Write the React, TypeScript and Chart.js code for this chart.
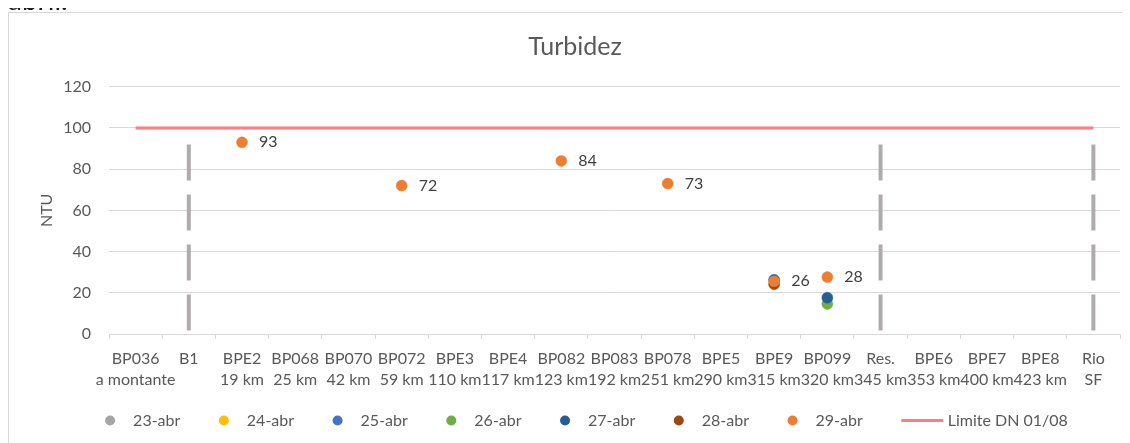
import React, { useEffect, useRef } from "react";
import { Chart, registerables } from "chart.js";

Chart.register(...registerables);

// ---------- data ----------
const stationNames = [
  "BP036", "B1", "BPE2", "BP068", "BP070", "BP072", "BPE3", "BPE4", "BP082", "BP083",
  "BP078", "BPE5", "BPE9", "BP099", "Res.", "BPE6", "BPE7", "BPE8", "Rio",
];
const stationKm = [
  "a montante", "", "19 km", "25 km", "42 km", "59 km", "110 km", "117 km", "123 km", "192 km",
  "251 km", "290 km", "315 km", "320 km", "345 km", "353 km", "400 km", "423 km", "SF",
];

const N = null;
const values23abr = [N, N, N, N, N, N, N, N, N, N, N, N, N, N, N, N, N, N, N];
const values24abr = [N, N, N, N, N, N, N, N, N, N, N, N, N, N, N, N, N, N, N];
const values25abr = [N, N, N, N, N, N, N, N, N, N, N, N, N, N, N, N, N, N, N];
const values26abr = [N, N, N, N, N, N, N, N, N, N, N, N, N, 14.6, N, N, N, N, N];
const values27abr = [N, N, N, N, N, N, N, N, N, N, N, N, 26.3, 17.6, N, N, N, N, N];
const values28abr = [N, N, N, N, N, N, N, N, N, N, N, N, 24.2, N, N, N, N, N, N];
const values29abr = [N, N, 93, N, N, 72, N, N, 84, N, 73, N, 25.6, 27.6, N, N, N, N, N];
const limitValues = [100, 100, 100, 100, 100, 100, 100, 100, 100, 100, 100, 100, 100, 100, 100, 100, 100, 100, 100];

const seriesNames = ["23-abr", "24-abr", "25-abr", "26-abr", "27-abr", "28-abr", "29-abr"];
const seriesColors = ["#A5A5A5", "#FFC000", "#4472C4", "#70AD47", "#255E91", "#9E480E", "#ED7D31"];
const seriesValues = [values23abr, values24abr, values25abr, values26abr, values27abr, values28abr, values29abr];
const labelledSeries = "29-abr";

const limitName = "Limite DN 01/08";
const limitColor = "#FF7C80";

const separatorStations = ["B1", "Res.", "Rio"];
const separatorRange = [92, 0];
const separatorColor = "#AFABAB";

const yMin = 0;
const yMax = 120;
const yStep = 20;

const chartTitle = "Turbidez";
const yTitle = "NTU";
const pageText = "abril.";

// ---------- styling ----------
const FONT = "Lato";
const TEXT = "#595959";
const GRID = "#D9D9D9";

const legendPlugin = {
  id: "customLegend",
  afterDraw(chart: any) {
    const ctx = chart.ctx;
    const items = chart.data.datasets.filter((d: any) => d.legendKind);
    ctx.save();
    ctx.font = `16px ${FONT}`;
    ctx.textBaseline = "middle";
    const markerW = (it: any) => (it.legendKind === "line" ? 42 : 10);
    const markerGap = (it: any) => (it.legendKind === "line" ? 4.5 : 18);
    const itemGap = 38.5;
    let total = 0;
    items.forEach((it: any, i: number) => {
      total += markerW(it) + markerGap(it) + ctx.measureText(it.label).width + (i < items.length - 1 ? itemGap : 0);
    });
    let x = chart.width / 2 + 11.5 - total / 2;
    const y = chart.chartArea.bottom + 86.5;
    items.forEach((it: any) => {
      const w = markerW(it);
      if (it.legendKind === "line") {
        ctx.strokeStyle = it.borderColor;
        ctx.lineWidth = 3;
        ctx.beginPath();
        ctx.moveTo(x, y);
        ctx.lineTo(x + w, y);
        ctx.stroke();
      } else {
        ctx.fillStyle = it.pointBackgroundColor;
        ctx.beginPath();
        ctx.arc(x + w / 2, y, 5, 0, Math.PI * 2);
        ctx.fill();
      }
      x += w + markerGap(it);
      ctx.fillStyle = TEXT;
      ctx.textAlign = "left";
      ctx.fillText(it.label, x, y);
      x += ctx.measureText(it.label).width + itemGap;
    });
    ctx.restore();
  },
};

const dataLabelPlugin = {
  id: "pointLabels",
  afterDatasetsDraw(chart: any) {
    const ctx = chart.ctx;
    chart.data.datasets.forEach((ds: any, di: number) => {
      if (!ds.showLabels) return;
      const meta = chart.getDatasetMeta(di);
      ctx.save();
      ctx.font = `16px ${FONT}`;
      ctx.fillStyle = "#404040";
      ctx.textAlign = "left";
      ctx.textBaseline = "middle";
      meta.data.forEach((pt: any, i: number) => {
        const v = ds.data[i];
        if (v === null || v === undefined) return;
        ctx.fillText(String(Math.round(v)), pt.x + 17, pt.y);
      });
      ctx.restore();
    });
  },
};

export default function App() {
  const canvasRef = useRef<HTMLCanvasElement | null>(null);

  useEffect(() => {
    if (!canvasRef.current) return;

    const pointSets = seriesNames.map((name, i) => ({
      type: "line",
      label: name,
      data: seriesValues[i],
      showLine: false,
      pointRadius: 5.5,
      pointHoverRadius: 5.5,
      pointBackgroundColor: seriesColors[i],
      pointBorderColor: seriesColors[i],
      pointBorderWidth: 0.5,
      borderColor: seriesColors[i],
      backgroundColor: seriesColors[i],
      order: seriesNames.length - 1 - i,
      legendKind: "point",
      showLabels: name === labelledSeries,
    }));

    const limitSet = {
      type: "line",
      label: limitName,
      data: limitValues,
      borderColor: limitColor,
      backgroundColor: limitColor,
      borderWidth: 3,
      pointRadius: 0,
      pointHoverRadius: 0,
      order: 20,
      legendKind: "line",
    };

    const separatorSets = separatorStations.map((st) => ({
      type: "line",
      label: "sep-" + st,
      data: separatorRange.map((v) => ({ x: st, y: v })),
      borderColor: separatorColor,
      borderWidth: 4,
      borderDash: [36, 14],
      borderCapStyle: "butt",
      pointRadius: 0,
      pointHoverRadius: 0,
      order: 30,
    }));

    const chart = new Chart(canvasRef.current, {
      type: "line",
      data: {
        labels: stationNames,
        datasets: [...pointSets, limitSet, ...separatorSets] as any,
      },
      options: {
        animation: false,
        responsive: false,
        maintainAspectRatio: false,
        events: [],
        layout: { padding: { top: 0, left: 0, right: 0, bottom: 0 } },
        plugins: {
          legend: { display: false },
          tooltip: { enabled: false },
          title: {
            display: true,
            text: chartTitle,
            color: TEXT,
            font: { family: FONT, size: 25, weight: "normal" },
            padding: { top: 19, bottom: 24.7 },
          },
        },
        scales: {
          x: {
            type: "category",
            offset: true,
            grid: {
              drawOnChartArea: false,
              drawTicks: true,
              tickLength: 5,
              color: GRID,
              offset: true,
            },
            border: { color: GRID, width: 1 },
            ticks: {
              autoSkip: false,
              maxRotation: 0,
              minRotation: 0,
              padding: 8.6,
              color: TEXT,
              font: { family: FONT, size: 16, lineHeight: 1.356 },
              callback: (_v: any, i: number) => [stationNames[i], stationKm[i]],
            },
            afterFit: (s: any) => {
              s.height = 109;
            },
          },
          y: {
            type: "linear",
            position: "left",
            min: yMin,
            max: yMax,
            grid: { color: GRID, drawTicks: false },
            border: { display: false },
            ticks: {
              stepSize: yStep,
              padding: 18,
              color: TEXT,
              font: { family: FONT, size: 16 },
            },
            title: {
              display: true,
              text: yTitle,
              color: TEXT,
              font: { family: FONT, size: 16 },
              padding: { top: 28, bottom: 0 },
            },
            afterFit: (s: any) => {
              s.width = 100;
            },
          },
          yR: {
            type: "linear",
            position: "right",
            display: true,
            grid: { display: false, drawTicks: false },
            border: { display: false },
            ticks: { display: false },
            afterFit: (s: any) => {
              s.width = 21;
            },
          },
        },
      } as any,
      plugins: [dataLabelPlugin, legendPlugin],
    });

    return () => chart.destroy();
  }, []);

  return (
    <div
      style={{
        position: "relative",
        marginTop: -8,
        width: 1122,
        height: 443,
        overflow: "hidden",
        background: "#fff",
      }}
    >
      <div
        style={{
          position: "absolute",
          left: 0,
          top: -15,
          fontFamily: FONT,
          fontSize: 28,
          lineHeight: "28px",
          color: "#1a1a1a",
          whiteSpace: "nowrap",
          zIndex: 2,
        }}
      >
        {pageText}
      </div>
      <div
        style={{
          position: "absolute",
          left: 0,
          top: 12,
          width: 1132,
          height: 440,
          border: `1px solid ${GRID}`,
          background: "#fff",
        }}
      >
        <canvas ref={canvasRef} width={1132} height={430} style={{ display: "block", width: 1132, height: 430 }} />
      </div>
    </div>
  );
}
